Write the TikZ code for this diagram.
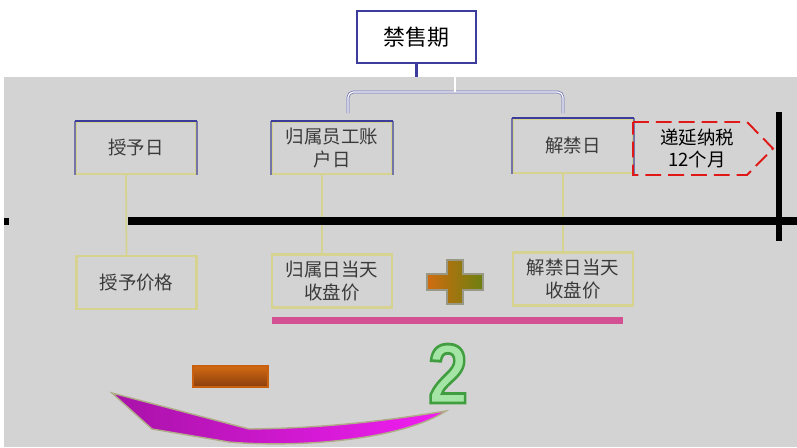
\documentclass[tikz,border=0pt]{standalone}
\usepackage{fontspec}
\newfontfamily\cjk{Noto Sans CJK SC}
\newfontfamily\digits{Liberation Sans}
\usetikzlibrary{positioning, calc}
\usepackage{xcolor}

\definecolor{boxblue}{HTML}{3C3C9C}
\definecolor{sideblue}{HTML}{7474A8}
\definecolor{khaki}{HTML}{D6D290}
\definecolor{bggray}{HTML}{D3D3D3}
\definecolor{txtgray}{HTML}{3A3A3A}
\definecolor{pinkbar}{HTML}{D35092}
\definecolor{deferred}{HTML}{E01818}

\tikzset{
    datebox/.style={draw=khaki, line width=1.1pt, minimum width=2.4cm, minimum height=1.04cm, align=center, text=txtgray, inner sep=1pt},
    pricebox/.style={draw=khaki, line width=1.2pt, minimum width=2.4cm, minimum height=1.06cm, align=center, text=txtgray, inner sep=1pt},
    bracelin/.style={draw=boxblue!75, double=white, double distance=0.7pt, rounded corners=3pt}
}

\begin{document}
\begin{tikzpicture}[x=0.02cm, y=-0.02cm, font=\cjk\fontsize{10.5}{13}\selectfont]
        \useasboundingbox (0,0) rectangle (797,447);
        \fill[white] (0,0) rectangle (797,447);

        % Background
        \fill[bggray] (4,77) rectangle (797,447);

        % Lock-up period
        \node[draw=boxblue, line width=1.2pt, fill=white, minimum width=2.38cm, minimum height=1.04cm,
              font=\cjk\fontsize{12.5}{15}\selectfont] (lockup) at (416.5,37) {禁售期};
        \coordinate (tip) at (455,77);
        \coordinate (bl) at (348,113);
        \coordinate (br) at (563,113);
        \draw[boxblue, line width=1.2pt] (lockup.south) -- (lockup.south |- tip);
        \draw[bracelin] (bl) -- ++(0,-21) -- ++(215,0) -- (br);
        \draw[bracelin] (tip) -- ++(0,15);

        % Dates
        \node[datebox] (grant) at (136,148) {授予日};
        \node[datebox] (vest) at (332,148) {归属员工账\\户日};
        \node[datebox, minimum height=1.08cm] (unlock) at (573,146) {解禁日};
        \foreach \n in {grant, vest, unlock} {
            \draw[sideblue, line width=0.7pt] (\n.south west) -- (\n.north west) (\n.north east) -- (\n.south east);
            \draw[boxblue, line width=1.3pt] (\n.north west) -- (\n.north east);
        }

        % Deferred tax
        \draw[deferred, line width=1.1pt, dash pattern=on 9pt off 4pt]
            (633,122) -- (747,122) -- (773,148.5) -- (747,175) -- (633,175) -- cycle;
        \node[align=center, text=black] (defer) at (697,148.5) {递延纳税\\12个月};

        % Prices
        \node[pricebox] (grantprice) at (136.5,282.5) {授予价格};
        \node[pricebox] (vestprice) at (332,281) {归属日当天\\收盘价};
        \node[pricebox] (unlockprice) at (573,279) {解禁日当天\\收盘价};
        \foreach \a/\b in {grant/grantprice, vest/vestprice, unlock/unlockprice}
            \draw[khaki, line width=1pt] ([xshift=-0.2cm]\a.south) -- ([xshift=-0.2cm]\b.north);

        % Timeline
        \draw[line width=4pt] (128,221) -- (797,221);
        \fill (4,218) rectangle (9,225);
        \draw[line width=3pt] (779,112) -- (779,241);

        % Plus
        \path[draw=gray!70!khaki, line width=0.8pt, left color={rgb,255:red,208;green,108;blue,16}, right color={rgb,255:red,108;green,128;blue,16}]
            (447,260) -- (463,260) -- (463,274) -- (483,274) -- (483,290) -- (463,290) -- (463,304)
            -- (447,304) -- (447,290) -- (427,290) -- (427,274) -- (447,274) -- cycle;
        \fill[pinkbar] (272,317) rectangle (623,324);

        % Minus
        \path[draw={rgb,255:red,200;green,96;blue,16}, line width=0.8pt, top color={rgb,255:red,210;green,106;blue,18}, bottom color={rgb,255:red,138;green,62;blue,14}]
            (193,366) rectangle (268,387);

        % Two (filled and outlined)
        \node[inner sep=0pt, text={rgb,255:red,164;green,228;blue,164}, xscale=0.85, font=\digits\bfseries\fontsize{48}{48}\selectfont] (two) at (448,373.5)
            {\special{pdf:literal direct 2 Tr 0.25 0.62 0.25 RG 1.6 w}2\special{pdf:literal direct 0 Tr}};

        % Swoosh
        \path[draw={rgb,255:red,176;green,172;blue,136}, line width=0.8pt, left color={rgb,255:red,168;green,18;blue,168}, right color={rgb,255:red,242;green,30;blue,242}]
            (112,393) -- (249,429) .. controls (330,428) and (390,420) .. (446,411)
            .. controls (400,440) and (300,448) .. (229,442) -- (152,429) -- cycle;
    \end{tikzpicture}
\end{document}
